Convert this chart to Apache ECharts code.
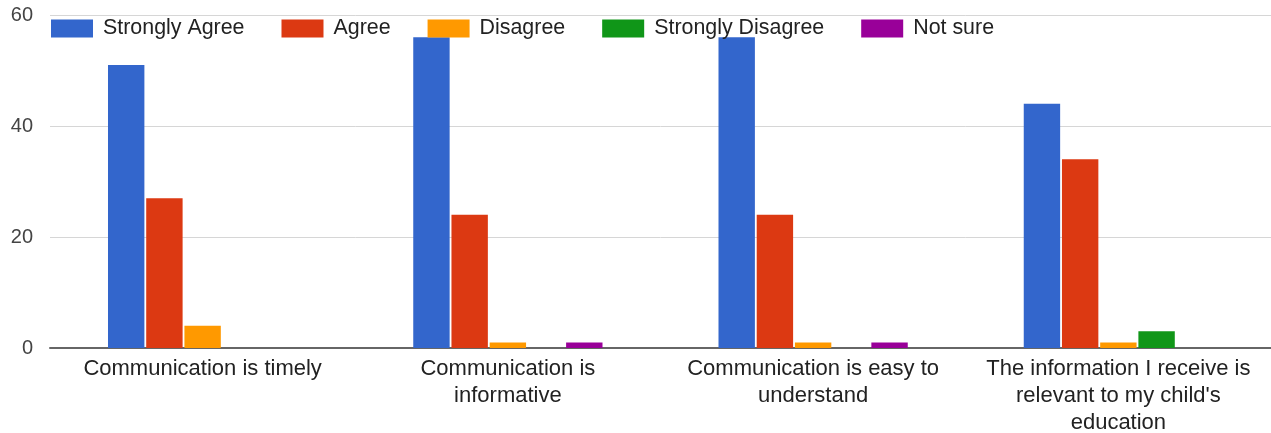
<!DOCTYPE html>
<html>
<head>
<meta charset="utf-8">
<script src="https://cdn.jsdelivr.net/npm/echarts@6/dist/echarts.min.js"></script>
<style>
  html, body { margin: 0; padding: 0; background: #fff; }
  #chart { width: 1271px; height: 433px; }
</style>
</head>
<body>
<div id="chart"></div>
<script>
var categories = [
    "Communication is timely",
    "Communication is\ninformative",
    "Communication is easy to\nunderstand",
    "The information I receive is\nrelevant to my child's\neducation"
];
var seriesNames = ["Strongly Agree", "Agree", "Disagree", "Strongly Disagree", "Not sure"];
var stronglyAgree = [51, 56, 56, 44];
var agree = [27, 24, 24, 34];
var disagree = [4, 1, 1, 1];
var stronglyDisagree = [0, 0, 0, 3];
var notSure = [0, 1, 1, 0];
var colors = ["#3366cc", "#dc3912", "#ff9900", "#109618", "#990099"];
var yTicks = { min: 0, max: 60, interval: 20 };

var font = "'Liberation Sans', Arial, sans-serif";
var allValues = [stronglyAgree, agree, disagree, stronglyDisagree, notSure];

var myChart = echarts.init(document.getElementById("chart"));

var series = seriesNames.map(function (name, i) {
    return {
        name: name,
        type: "bar",
        data: allValues[i],
        barGap: "5%",
        barCategoryGap: "38%",
        itemStyle: { color: colors[i] }
    };
});

var option = {
    animation: false,
    textStyle: { fontFamily: font },
    color: colors,
    grid: { left: 50, right: 0, top: 15, bottom: 85, containLabel: false, outerBoundsMode: "none" },
    legend: {
        left: 51,
        top: 18,
        padding: 0,
        icon: "rect",
        itemWidth: 42,
        itemHeight: 18,
        itemGap: 37,
        data: seriesNames,
        textStyle: { fontSize: 21.4, color: "#222", fontFamily: font, padding: [0, 0, 0, 5] }
    },
    xAxis: {
        type: "category",
        data: categories,
        axisTick: { show: false },
        axisLine: { lineStyle: { color: "#666", width: 2 } },
        axisLabel: {
            fontSize: 22,
            lineHeight: 27,
            margin: 7,
            color: "#222",
            interval: 0,
            fontFamily: font
        }
    },
    yAxis: {
        type: "value",
        min: yTicks.min,
        max: yTicks.max,
        interval: yTicks.interval,
        axisLine: { show: false },
        axisTick: { show: false },
        splitLine: { lineStyle: { color: "#d6d6d6", width: 1 } },
        axisLabel: { fontSize: 20, color: "#444", margin: 17, fontFamily: font }
    },
    series: series
};

myChart.setOption(option);
</script>
</body>
</html>
